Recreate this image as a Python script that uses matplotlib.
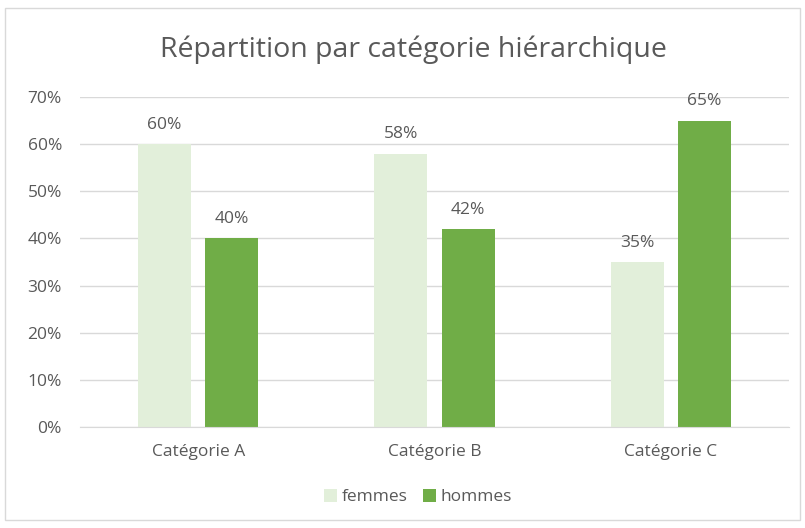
import numpy as np
import matplotlib.pyplot as plt
from matplotlib.patches import Rectangle
from matplotlib.ticker import FuncFormatter

categories = ["Catégorie A", "Catégorie B", "Catégorie C"]
femmes = [0.60, 0.58, 0.35]
hommes = [0.40, 0.42, 0.65]

plt.rcParams["font.family"] = ["Open Sans", "DejaVu Sans"]
text_color = "#595959"

fig = plt.figure(figsize=(8.05, 5.28), dpi=100)
fig.patches.append(Rectangle((5 / 805, 8 / 528), 795 / 805, 512 / 528, transform=fig.transFigure,
                             fill=False, edgecolor="#D9D9D9", linewidth=1))

ax = fig.add_axes([80 / 805, 101 / 528, 709 / 805, 330 / 528])

x = np.arange(len(categories))
width = 0.224
off = 0.142
b1 = ax.bar(x - off, femmes, width, color="#E2EFDA", label="femmes", zorder=2)
b2 = ax.bar(x + off, hommes, width, color="#70AD47", label="hommes", zorder=2)

for bars in (b1, b2):
    for rect in bars:
        h = rect.get_height()
        ax.annotate(f"{h:.0%}", (rect.get_x() + rect.get_width() / 2, h), xytext=(0, 8),
                    textcoords="offset points", ha="center", va="bottom", fontsize=12.5, color=text_color)

ax.set_xlim(-0.5, 2.5)
ax.set_ylim(0, 0.70)
ax.set_yticks(np.arange(0, 0.71, 0.1))
ax.yaxis.set_major_formatter(FuncFormatter(lambda v, _: f"{v:.0%}"))
ax.set_xticks(x)
ax.set_xticklabels(categories)
ax.grid(axis="y", color="#D9D9D9", linewidth=1, zorder=0)
ax.tick_params(length=0, labelsize=12.5, colors=text_color)
ax.tick_params(axis="x", pad=12)
ax.tick_params(axis="y", pad=13)
for side in ("top", "right", "left"):
    ax.spines[side].set_visible(False)
ax.spines["bottom"].set_color("#D9D9D9")

fig.text(413 / 805, 1 - 50 / 528, "Répartition par catégorie hiérarchique", ha="center", va="center",
         fontsize=20.5, color=text_color)

fig.legend(loc="center", bbox_to_anchor=(418 / 805, 1 - 497 / 528), ncol=2, frameon=False,
           fontsize=12.5, labelcolor=text_color, handlelength=0.75, handleheight=0.75,
           handletextpad=0.25, columnspacing=0.9)

fig.savefig("out.png", dpi=100)
